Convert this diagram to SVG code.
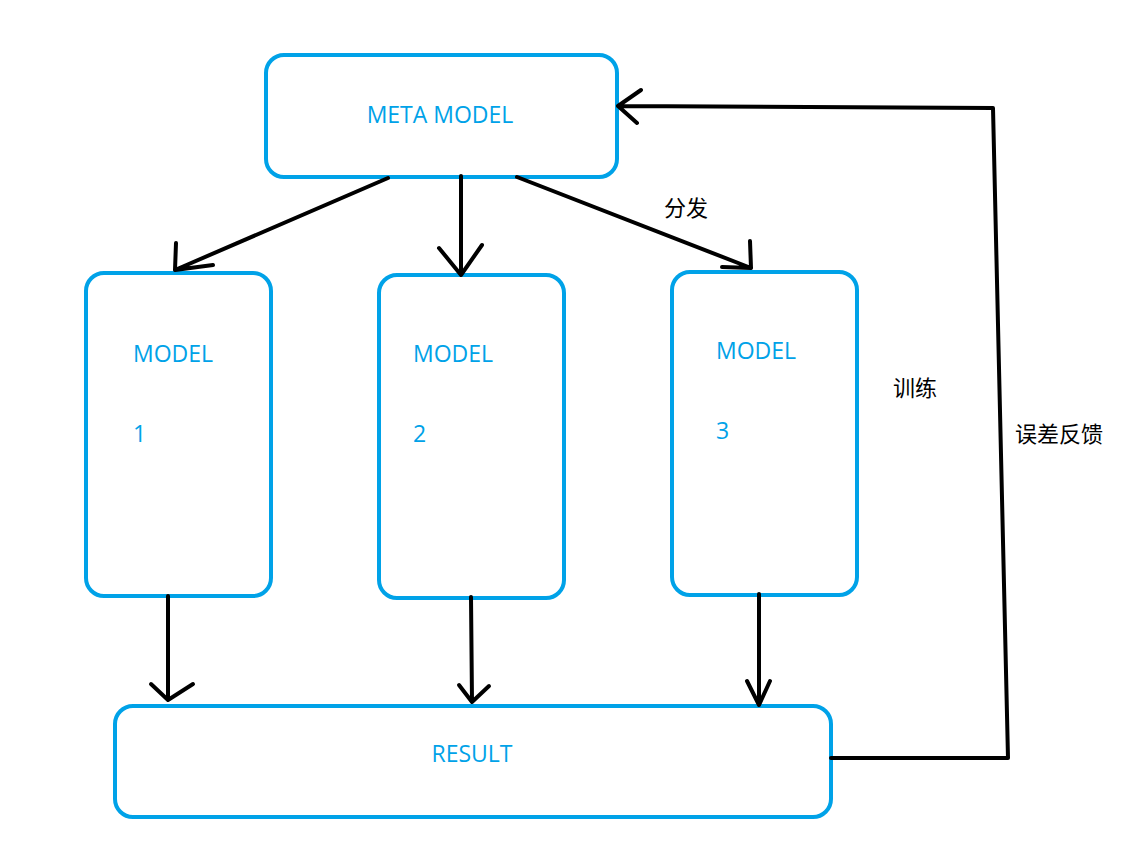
<svg xmlns="http://www.w3.org/2000/svg" width="1143" height="862" viewBox="0 0 1143 862">
<style>
.box{fill:#fff;stroke:#00a2e8;stroke-width:4}
.bt{font-family:"Open Sans","Noto Sans","Liberation Sans",sans-serif;font-size:23px;fill:#00a2e8}
.lbl{font-family:"Noto Sans CJK SC","Noto Sans",sans-serif;font-size:22px;fill:#000}
.c{fill:none;stroke:#000;stroke-width:4;stroke-linecap:round;stroke-linejoin:round}
</style>
<rect width="1143" height="862" fill="#fff"/>
<g id="meta"><rect class="box" x="266" y="55" width="351" height="122" rx="18"/><text class="bt" x="440" y="123" text-anchor="middle">META MODEL</text></g>
<g id="model1"><rect class="box" x="86" y="273" width="185" height="323" rx="18"/><text class="bt" x="133" y="362">MODEL</text><text class="bt" x="133" y="442">1</text></g>
<g id="model2"><rect class="box" x="379" y="275" width="185" height="323" rx="18"/><text class="bt" x="413" y="362">MODEL</text><text class="bt" x="413" y="442">2</text></g>
<g id="model3"><rect class="box" x="672" y="272" width="185" height="323" rx="18"/><text class="bt" x="716" y="359">MODEL</text><text class="bt" x="716" y="439">3</text></g>
<g id="result"><rect class="box" x="115" y="706" width="716" height="111" rx="18"/><text class="bt" x="472" y="762" text-anchor="middle">RESULT</text></g>
<g id="connectors">
<path class="c" d="M388 178L175 270M176 243L175 270L213 265"/>
<path class="c" d="M461 176L461 275M439 248L461 275L482 245"/>
<path class="c" d="M517 177L751 268M750 241L751 268L722 267"/>
<path class="c" d="M168 596L168 700M151 684L168 700L193 684"/>
<path class="c" d="M471 597L472 702M459 685L472 702L489 686"/>
<path class="c" d="M759 594L759 705M747 681L759 705L770 681"/>
<path class="c" d="M831 758L1008 758L993 108L618 106M641 90L618 106L637 123"/>
</g>
<text class="lbl" x="664" y="216">分发</text>
<text class="lbl" x="893" y="396">训练</text>
<text class="lbl" x="1015" y="442">误差反馈</text>
</svg>
